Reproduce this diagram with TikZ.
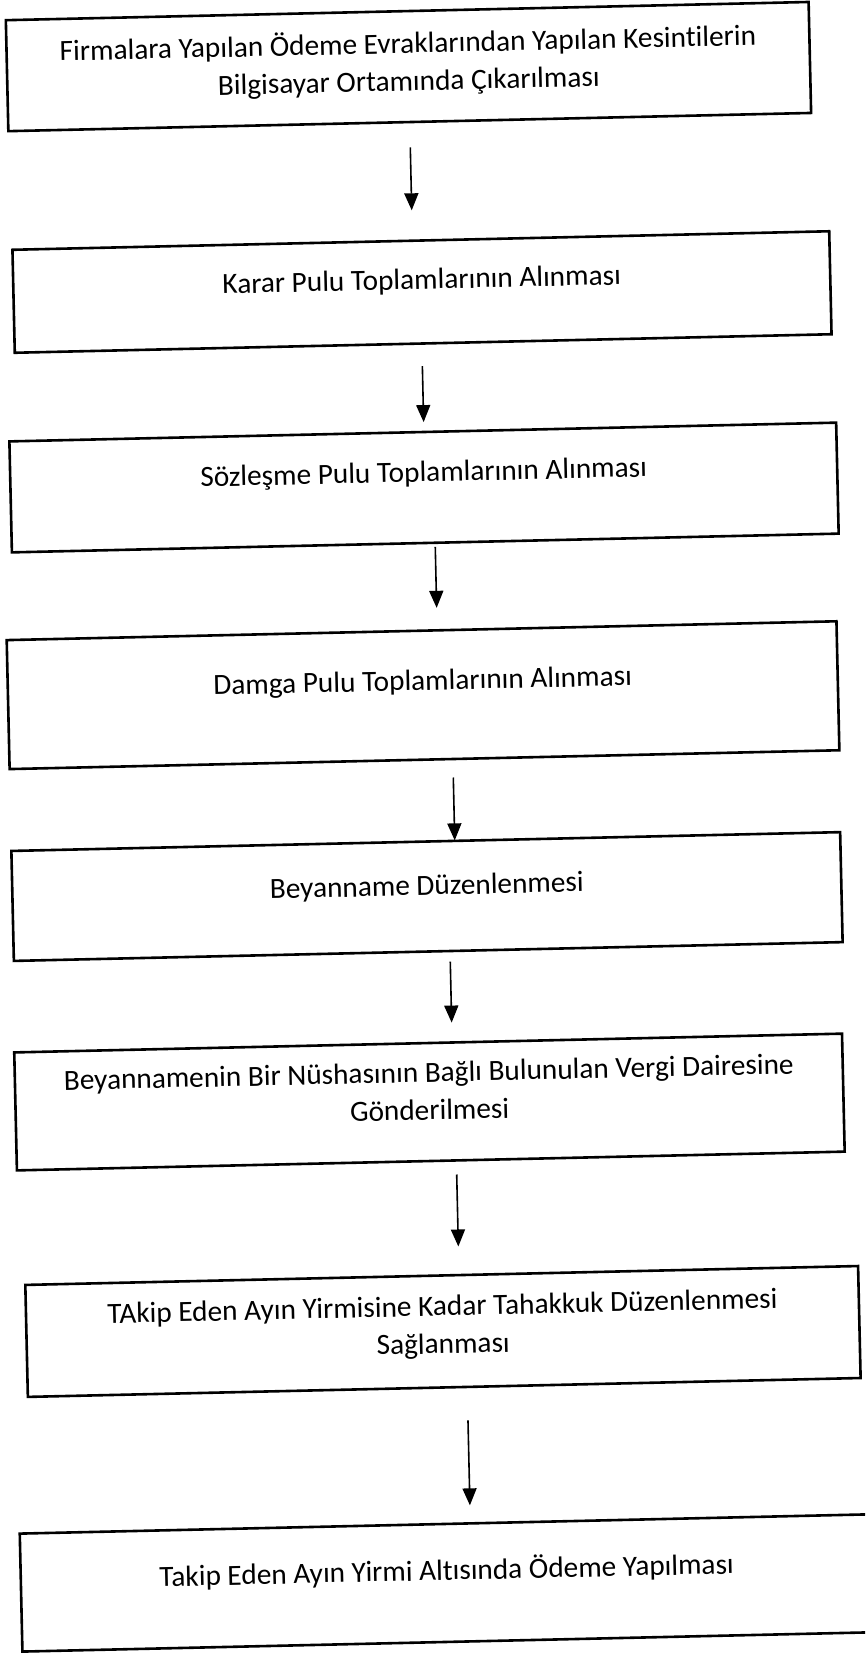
\documentclass[tikz,border=0pt]{standalone}
\usepackage{fontspec}
\setmainfont{Carlito}[Ligatures=NoCommon]
\usetikzlibrary{arrows.meta}
\begin{document}
\begin{tikzpicture}[x=1pt,y=-1pt,
  box/.style={draw=black, line width=2.6pt, inner sep=0pt, outer sep=0pt},
  txt/.style={anchor=north, inner sep=0pt, align=center, font=\fontsize{29.3}{37.7}\selectfont},
  arr/.style={line width=1.6pt, -{Triangle[width=14pt,length=17pt]}}
]
\useasboundingbox (0,0) rectangle (865,1653);
\clip (0,0) rectangle (865,1653);
\fill[white] (0,0) rectangle (865,1653);
\begin{scope}[rotate around={1.3:(432,826)}, transform shape]
\node[box, minimum width=803pt, minimum height=111pt] (b1) at (425.7,66.2) {};
\node[box, minimum width=817pt, minimum height=103pt] (b2) at (434.1,291.9) {};
\node[box, minimum width=827pt, minimum height=111pt] (b3) at (431.7,487.4) {};
\node[box, minimum width=830pt, minimum height=129pt] (b4) at (426,695) {};
\node[box, minimum width=829pt, minimum height=110pt] (b5) at (425.4,896.4) {};
\node[box, minimum width=828pt, minimum height=118pt] (b6) at (423.2,1101.9) {};
\node[box, minimum width=833pt, minimum height=112pt] (b7) at (431.5,1331.6) {};
\node[box, minimum width=852pt, minimum height=118pt] (b8) at (429.8,1583.1) {};

\node[txt] (t1) at ([yshift=-15.4pt]b1.north) {\strut Firmalara Yapılan Ödeme Evraklarından Yapılan Kesintilerin\\Bilgisayar Ortamında Çıkarılması};
\node[txt] (t2) at ([yshift=-22.1pt]b2.north) {\strut Karar Pulu Toplamlarının Alınması};
\node[txt] (t3) at ([yshift=-23.2pt]b3.north) {\strut Sözleşme Pulu Toplamlarının Alınması};
\node[txt] (t4) at ([yshift=-32.9pt]b4.north) {\strut Damga Pulu Toplamlarının Alınması};
\node[txt] (t5) at ([yshift=-27pt]b5.north) {\strut Beyanname Düzenlenmesi};
\node[txt] (t6) at ([yshift=-12.4pt]b6.north) {\strut Beyannamenin Bir Nüshasının Bağlı Bulunulan Vergi Dairesine\\Gönderilmesi};
\node[txt] (t7) at ([yshift=-13.7pt]b7.north) {\strut TAkip Eden Ayın Yirmisine Kadar Tahakkuk Düzenlenmesi\\Sağlanması};
\node[txt] (t8) at ([yshift=-29.6pt]b8.north) {\strut Takip Eden Ayın Yirmi Altısında Ödeme Yapılması};

\draw[arr, shorten <=25.3pt, shorten >=30.4pt] (b1.south) -- ([xshift=-8.4pt]b2.north);
\draw[arr, shorten <=22.6pt, shorten >=9.9pt] ([xshift=-1.3pt]b2.south) -- ([xshift=1.1pt]b3.north);
\draw[arr, shorten <=4.1pt, shorten >=22.5pt] ([xshift=9.9pt]b3.south) -- ([xshift=15.6pt]b4.north);
\draw[arr, shorten <=18.5pt, shorten >=0.5pt] ([xshift=28.4pt]b4.south) -- ([xshift=29pt]b5.north);
\draw[arr, shorten <=10.6pt, shorten >=19.9pt] ([xshift=21.8pt]b5.south) -- ([xshift=24pt]b6.north);
\draw[arr, shorten <=14.1pt, shorten >=28.6pt] ([xshift=25.6pt]b6.south) -- ([xshift=17.3pt]b7.north);
\draw[arr, shorten <=33.4pt, shorten >=18pt] ([xshift=23pt]b7.south) -- ([xshift=24.7pt]b8.north);
\end{scope}
\end{tikzpicture}
\end{document}
